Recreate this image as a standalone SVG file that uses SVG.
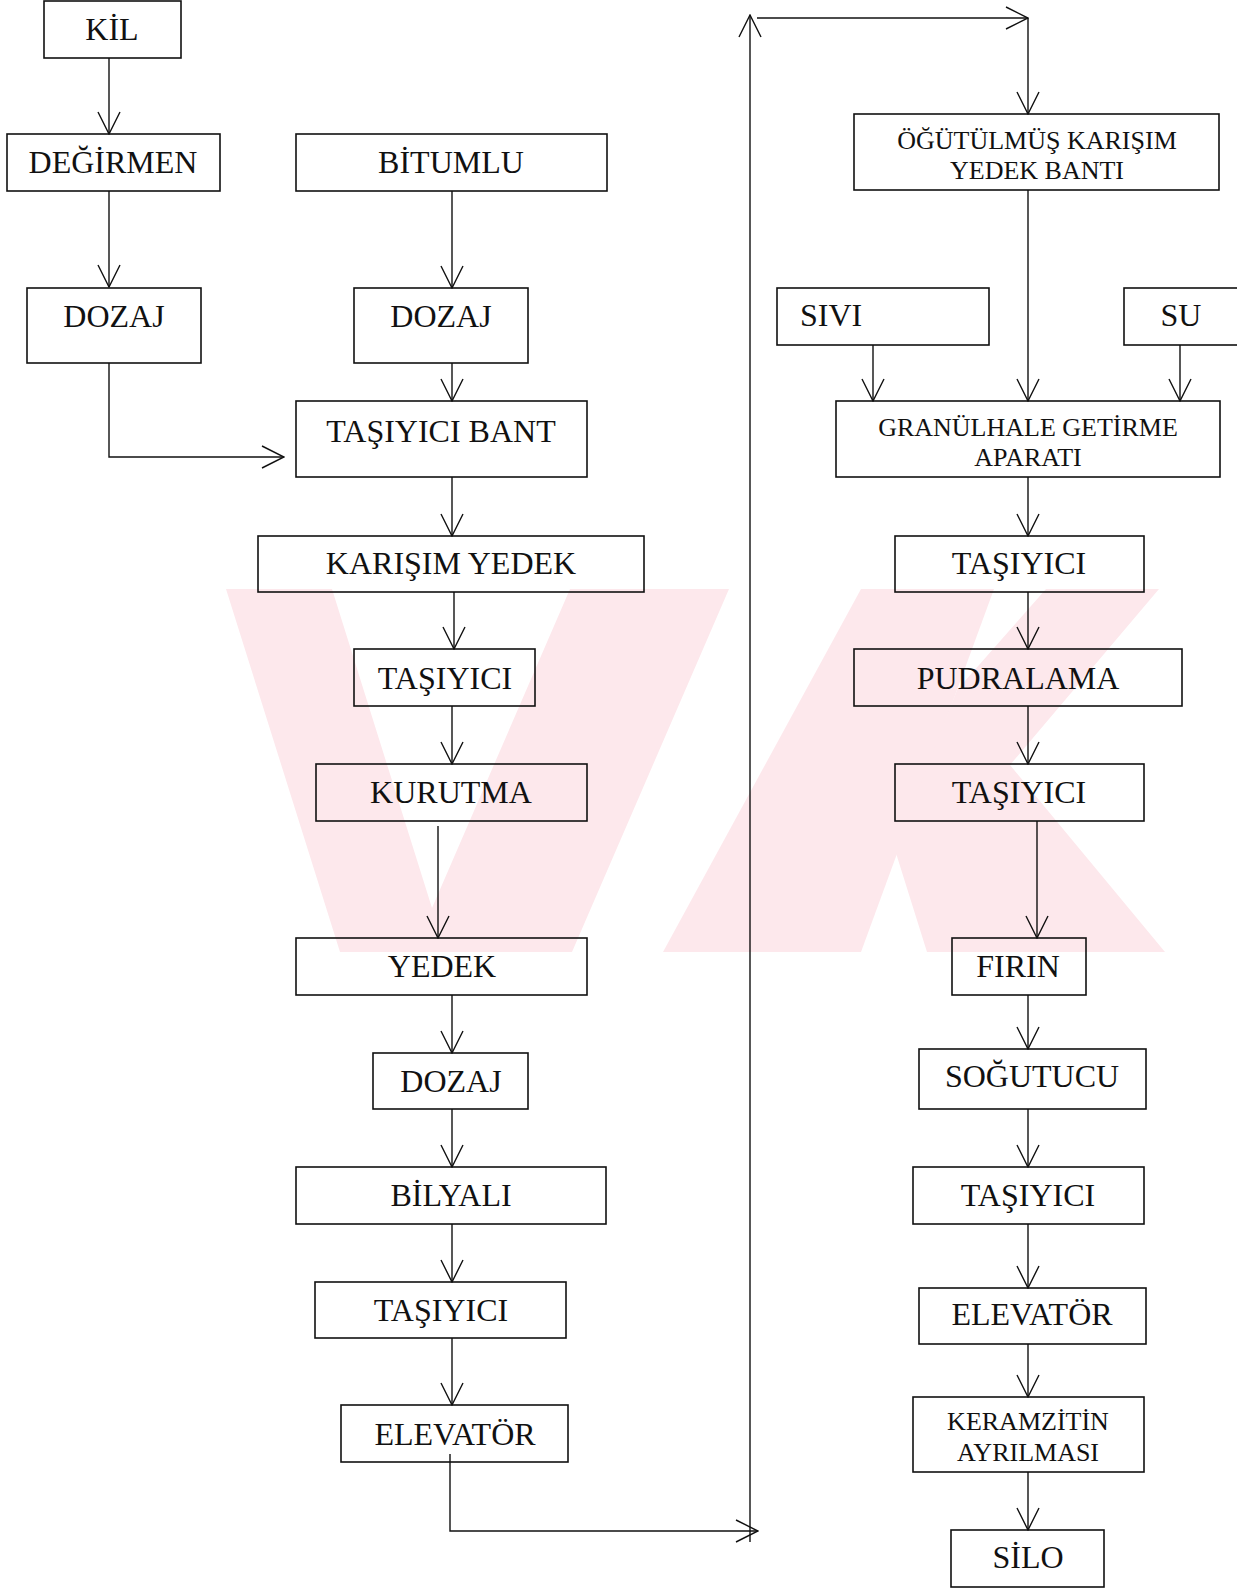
<svg xmlns="http://www.w3.org/2000/svg" width="1237" height="1589" viewBox="0 0 1237 1589">
<defs>
<style>
.box{fill:none;stroke:#111;stroke-width:1.6}
.t{font-family:"Liberation Serif","Times New Roman",serif;font-size:32px;fill:#111;text-anchor:middle}
.s{font-size:26px}
.c{fill:none;stroke:#111;stroke-width:1.4}
.wm{fill:#fde8ec;stroke:none}
</style>
<marker id="ah" viewBox="0 0 24 24" refX="23" refY="12" markerWidth="24" markerHeight="24" markerUnits="userSpaceOnUse" orient="auto">
<path d="M1,1 L23,12 L1,23" fill="none" stroke="#111" stroke-width="1.4"/>
</marker>
</defs>
<rect width="1237" height="1589" fill="#fff"/>
<g id="watermark">
<polygon class="wm" points="226,589 332,589 432,908 570,589 729,589 572,952 340,952"/>
<polygon class="wm" points="861,589 994,589 861,952 663,952"/>
<polygon class="wm" points="1046,589 1159,589 1010,765 1165,952 927,952 895,850 957,690"/>
</g>
<g id="connectors">
<path class="c" d="M109,58 V134" marker-end="url(#ah)"/>
<path class="c" d="M109,191 V287" marker-end="url(#ah)"/>
<path class="c" d="M109,363 V457 H284" marker-end="url(#ah)"/>
<path class="c" d="M452,191 V288" marker-end="url(#ah)"/>
<path class="c" d="M452,363 V401" marker-end="url(#ah)"/>
<path class="c" d="M452,477 V536" marker-end="url(#ah)"/>
<path class="c" d="M454,592 V649" marker-end="url(#ah)"/>
<path class="c" d="M452,706 V764" marker-end="url(#ah)"/>
<path class="c" d="M438,826 V938" marker-end="url(#ah)"/>
<path class="c" d="M452,995 V1053" marker-end="url(#ah)"/>
<path class="c" d="M452,1109 V1167" marker-end="url(#ah)"/>
<path class="c" d="M452,1224 V1282" marker-end="url(#ah)"/>
<path class="c" d="M452,1338 V1405" marker-end="url(#ah)"/>
<path class="c" d="M450,1454 V1531 H758" marker-end="url(#ah)"/>
<path class="c" d="M750,1542 V15" marker-end="url(#ah)"/>
<path class="c" d="M757,18 H1028" marker-end="url(#ah)"/>
<path class="c" d="M1028,18 V114" marker-end="url(#ah)"/>
<path class="c" d="M1028,190 V401" marker-end="url(#ah)"/>
<path class="c" d="M873,345 V401" marker-end="url(#ah)"/>
<path class="c" d="M1180,345 V401" marker-end="url(#ah)"/>
<path class="c" d="M1028,477 V536" marker-end="url(#ah)"/>
<path class="c" d="M1028,592 V649" marker-end="url(#ah)"/>
<path class="c" d="M1028,706 V764" marker-end="url(#ah)"/>
<path class="c" d="M1037,821 V938" marker-end="url(#ah)"/>
<path class="c" d="M1028,995 V1049" marker-end="url(#ah)"/>
<path class="c" d="M1028,1109 V1167" marker-end="url(#ah)"/>
<path class="c" d="M1028,1224 V1288" marker-end="url(#ah)"/>
<path class="c" d="M1028,1344 V1397" marker-end="url(#ah)"/>
<path class="c" d="M1028,1472 V1530" marker-end="url(#ah)"/>
</g>
<g id="n-kil"><rect class="box" x="44" y="1" width="137" height="57"/><text class="t" x="112" y="40">KİL</text></g>
<g id="n-degirmen"><rect class="box" x="7" y="134" width="213" height="57"/><text class="t" x="113" y="173">DEĞİRMEN</text></g>
<g id="n-dozaj1"><rect class="box" x="27" y="288" width="174" height="75"/><text class="t" x="114" y="327">DOZAJ</text></g>
<g id="n-bitumlu"><rect class="box" x="296" y="134" width="311" height="57"/><text class="t" x="451" y="173">BİTUMLU</text></g>
<g id="n-dozaj2"><rect class="box" x="354" y="288" width="174" height="75"/><text class="t" x="441" y="327">DOZAJ</text></g>
<g id="n-tasiyici-bant"><rect class="box" x="296" y="401" width="291" height="76"/><text class="t" x="441" y="442">TAŞIYICI BANT</text></g>
<g id="n-karisim-yedek"><rect class="box" x="258" y="536" width="386" height="56"/><text class="t" x="451" y="574">KARIŞIM YEDEK</text></g>
<g id="n-tasiyici1"><rect class="box" x="354" y="649" width="181" height="57"/><text class="t" x="445" y="689">TAŞIYICI</text></g>
<g id="n-kurutma"><rect class="box" x="316" y="764" width="271" height="57"/><text class="t" x="451" y="803">KURUTMA</text></g>
<g id="n-yedek"><rect class="box" x="296" y="938" width="291" height="57"/><text class="t" x="442" y="977">YEDEK</text></g>
<g id="n-dozaj3"><rect class="box" x="373" y="1053" width="155" height="56"/><text class="t" x="451" y="1092">DOZAJ</text></g>
<g id="n-bilyali"><rect class="box" x="296" y="1167" width="310" height="57"/><text class="t" x="451" y="1206">BİLYALI</text></g>
<g id="n-tasiyici2"><rect class="box" x="315" y="1282" width="251" height="56"/><text class="t" x="441" y="1321">TAŞIYICI</text></g>
<g id="n-elevator1"><rect class="box" x="341" y="1405" width="227" height="57"/><text class="t" x="455" y="1445">ELEVATÖR</text></g>
<g id="n-ogutulmus"><rect class="box" x="854" y="114" width="365" height="76"/><text class="t s" x="1037" y="149">ÖĞÜTÜLMÜŞ KARIŞIM</text><text class="t s" x="1037" y="179">YEDEK BANTI</text></g>
<g id="n-sivi"><rect class="box" x="777" y="288" width="212" height="57"/><text class="t" x="800" y="326" style="text-anchor:start">SIVI</text></g>
<g id="n-su"><rect class="box" x="1124" y="288" width="120" height="57"/><text class="t" x="1181" y="326">SU</text></g>
<g id="n-granul"><rect class="box" x="836" y="401" width="384" height="76"/><text class="t s" x="1028" y="436">GRANÜLHALE GETİRME</text><text class="t s" x="1028" y="466">APARATI</text></g>
<g id="n-tasiyici3"><rect class="box" x="895" y="536" width="249" height="56"/><text class="t" x="1019" y="574">TAŞIYICI</text></g>
<g id="n-pudralama"><rect class="box" x="854" y="649" width="328" height="57"/><text class="t" x="1018" y="689">PUDRALAMA</text></g>
<g id="n-tasiyici4"><rect class="box" x="895" y="764" width="249" height="57"/><text class="t" x="1019" y="803">TAŞIYICI</text></g>
<g id="n-firin"><rect class="box" x="952" y="938" width="134" height="57"/><text class="t" x="1018" y="977">FIRIN</text></g>
<g id="n-sogutucu"><rect class="box" x="919" y="1049" width="227" height="60"/><text class="t" x="1032" y="1087">SOĞUTUCU</text></g>
<g id="n-tasiyici5"><rect class="box" x="913" y="1167" width="231" height="57"/><text class="t" x="1028" y="1206">TAŞIYICI</text></g>
<g id="n-elevator2"><rect class="box" x="919" y="1288" width="227" height="56"/><text class="t" x="1032" y="1325">ELEVATÖR</text></g>
<g id="n-keramzit"><rect class="box" x="913" y="1397" width="231" height="75"/><text class="t s" x="1028" y="1430">KERAMZİTİN</text><text class="t s" x="1028" y="1461">AYRILMASI</text></g>
<g id="n-silo"><rect class="box" x="951" y="1530" width="153" height="57"/><text class="t" x="1028" y="1568">SİLO</text></g>
</svg>
